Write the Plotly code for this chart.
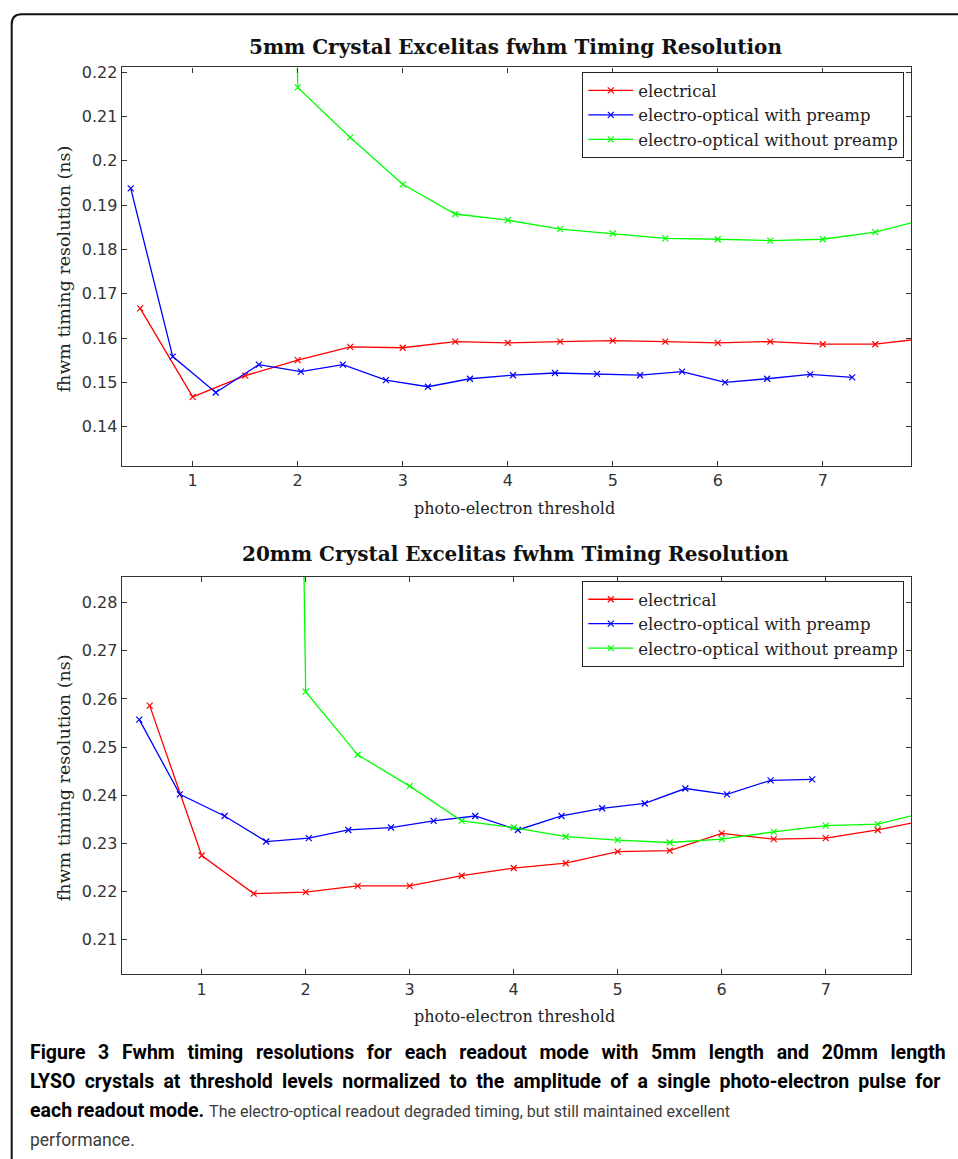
import plotly.graph_objects as go

W, H = 958, 1159

# ---------------- data ----------------
series_names = ["electrical", "electro-optical with preamp", "electro-optical without preamp"]
series_colors = ["#ff0000", "#0000ff", "#00ff00"]

# 5 mm crystal
top_elec_x = [0.5, 1, 1.5, 2, 2.5, 3, 3.5, 4, 4.5, 5, 5.5, 6, 6.5, 7, 7.5, 8]
top_elec_y = [0.1667, 0.1467, 0.1515, 0.1550, 0.1580, 0.1578, 0.1592, 0.1589, 0.1592,
              0.1594, 0.1592, 0.1589, 0.1592, 0.1586, 0.1586, 0.1600]
top_pre_x = [0.41, 0.81, 1.22, 1.63, 2.03, 2.43, 2.84, 3.24, 3.64, 4.05, 4.45, 4.85,
             5.26, 5.66, 6.07, 6.47, 6.88, 7.28]
top_pre_y = [0.1938, 0.1558, 0.1477, 0.1540, 0.1524, 0.1540, 0.1505, 0.1490, 0.1508,
             0.1516, 0.1521, 0.1519, 0.1516, 0.1524, 0.1500, 0.1508, 0.1518, 0.1511]
top_nopre_x = [1.5, 2, 2.5, 3, 3.5, 4, 4.5, 5, 5.5, 6, 6.5, 7, 7.5, 8]
top_nopre_y = [1.0, 0.2166, 0.2053, 0.1947, 0.1880, 0.1866, 0.1846, 0.1836, 0.1825,
               0.1823, 0.1820, 0.1823, 0.1839, 0.1870]

# 20 mm crystal
bot_elec_x = [0.5, 1, 1.5, 2, 2.5, 3, 3.5, 4, 4.5, 5, 5.5, 6, 6.5, 7, 7.5, 8]
bot_elec_y = [0.2586, 0.2275, 0.2196, 0.2199, 0.2212, 0.2212, 0.2233, 0.2249, 0.2259,
              0.2283, 0.2285, 0.2321, 0.2309, 0.2311, 0.2328, 0.2350]
bot_pre_x = [0.40, 0.79, 1.22, 1.62, 2.03, 2.41, 2.82, 3.23, 3.63, 4.04, 4.46, 4.85,
             5.26, 5.65, 6.05, 6.47, 6.87]
bot_pre_y = [0.2557, 0.2402, 0.2357, 0.2304, 0.2311, 0.2328, 0.2333, 0.2347, 0.2357,
             0.2328, 0.2357, 0.2373, 0.2383, 0.2414, 0.2402, 0.2431, 0.2433]
bot_nopre_x = [1.5, 2, 2.5, 3, 3.5, 4, 4.5, 5, 5.5, 6, 6.5, 7, 7.5, 8]
bot_nopre_y = [1.0, 0.2615, 0.2484, 0.2419, 0.2347, 0.2333, 0.2314, 0.2307, 0.2302,
               0.2309, 0.2324, 0.2337, 0.2340, 0.2367]

x_ticks = [1, 2, 3, 4, 5, 6, 7]
top_y_ticks = [0.14, 0.15, 0.16, 0.17, 0.18, 0.19, 0.2, 0.21, 0.22]
bot_y_ticks = [0.21, 0.22, 0.23, 0.24, 0.25, 0.26, 0.27, 0.28]

top_title = "5mm Crystal Excelitas fwhm Timing Resolution"
bot_title = "20mm Crystal Excelitas fwhm Timing Resolution"
x_label = "photo-electron threshold"
y_label = "fhwm timing resolution (ns)"
caption_lines = [
    "<span style='word-spacing:7.8px'><b>Figure 3 Fwhm timing resolutions for each readout mode with 5mm length and 20mm length</b></span>",
    "<span style='word-spacing:4.4px'><b>LYSO crystals at threshold levels normalized to the amplitude of a single photo-electron pulse for</b></span>",
    "<b>each readout mode.</b> <span style='color:#3c3c3c;font-size:16px'>The electro-optical readout degraded timing, but still maintained excellent</span>",
    "<span style='color:#3c3c3c;font-size:17.5px'>performance.</span>",
]

# ---------------- helpers ----------------
def px(xp):
    return xp / W

def py(yp):
    return 1 - yp / H

SERIF = "DejaVu Serif"
SANS = "DejaVu Sans"

fig = go.Figure()

top_sets = [(top_elec_x, top_elec_y), (top_pre_x, top_pre_y), (top_nopre_x, top_nopre_y)]
bot_sets = [(bot_elec_x, bot_elec_y), (bot_pre_x, bot_pre_y), (bot_nopre_x, bot_nopre_y)]

for i, (xs, ys) in enumerate(top_sets):
    fig.add_trace(go.Scatter(
        x=xs, y=ys, mode="lines+markers", name=series_names[i],
        line=dict(color=series_colors[i], width=1.3),
        marker=dict(symbol="x-thin", size=6, line=dict(color=series_colors[i], width=1.2)),
        xaxis="x", yaxis="y", legend="legend"))
for i, (xs, ys) in enumerate(bot_sets):
    fig.add_trace(go.Scatter(
        x=xs, y=ys, mode="lines+markers", name=series_names[i],
        line=dict(color=series_colors[i], width=1.3),
        marker=dict(symbol="x-thin", size=6, line=dict(color=series_colors[i], width=1.2)),
        xaxis="x2", yaxis="y2", legend="legend2"))

axis_common = dict(
    showline=True, linecolor="#333333", linewidth=1.2, mirror="ticks",
    ticks="inside", ticklen=5, tickwidth=1, tickcolor="#333333",
    showgrid=False, zeroline=False,
    tickfont=dict(family=SANS, size=16, color="#333333"),
)

legend_common = dict(
    xanchor="left", yanchor="top",
    bgcolor="white", bordercolor="#222222", borderwidth=1,
    font=dict(family=SERIF, size=16.5, color="#222222"),
    tracegroupgap=0, itemwidth=45,
)

fig.update_layout(
    width=W, height=H,
    margin=dict(l=0, r=0, t=0, b=0),
    paper_bgcolor="white", plot_bgcolor="white",
    xaxis=dict(domain=[px(121.7), px(911)], range=[0.324, 7.84], tickvals=x_ticks,
               anchor="y", **axis_common),
    yaxis=dict(domain=[py(463), py(62.7)], range=[0.1311, 0.2211], tickvals=top_y_ticks,
               anchor="x", **axis_common),
    xaxis2=dict(domain=[px(121.7), px(911)], range=[0.231, 7.82], tickvals=x_ticks,
                anchor="y2", **axis_common),
    yaxis2=dict(domain=[py(973.7), py(574)], range=[0.2028, 0.2854], tickvals=bot_y_ticks,
                anchor="x2", **axis_common),
    legend=dict(x=px(582.3), y=py(67.5), **legend_common),
    legend2=dict(x=px(582.3), y=py(578.5), **legend_common),
    showlegend=True,
)

annotations = []
# chart titles
for txt, yc in [(top_title, 42), (bot_title, 551.5)]:
    annotations.append(dict(text="<b>" + txt + "</b>", x=px(515.5), y=py(yc), xref="paper", yref="paper",
                            xanchor="center", yanchor="middle", showarrow=False,
                            font=dict(family=SERIF, size=20, color="#111111")))
# x labels
for yc in [506, 1016]:
    annotations.append(dict(text=x_label, x=px(514), y=py(yc), xref="paper", yref="paper",
                            xanchor="center", yanchor="middle", showarrow=False,
                            font=dict(family=SERIF, size=16, color="#222222")))
# y labels
for yc in [265, 776]:
    annotations.append(dict(text=y_label, x=px(63.5), y=py(yc), xref="paper", yref="paper",
                            xanchor="center", yanchor="middle", showarrow=False, textangle=-90,
                            font=dict(family=SERIF, size=17.5, color="#222222")))
# caption
for txt, yc in zip(caption_lines, [1052, 1081, 1110, 1139.5]):
    annotations.append(dict(text=txt, x=px(28), y=py(yc), xref="paper", yref="paper",
                            xanchor="left", yanchor="middle", showarrow=False,
                            font=dict(family="Roboto", size=19.5, color="#000000")))
fig.update_layout(annotations=annotations)

# outer frame with rounded top-left corner
x0, y0 = px(11.7), py(9.3)
dx, dy = 10 / W, 10 / H
path = (f"M {x0},-0.05 L {x0},{y0 - dy} Q {x0},{y0} {x0 + dx},{y0} L 1.05,{y0}")
fig.add_shape(type="path", path=path, xref="paper", yref="paper",
              line=dict(color="#111111", width=2))

fig.write_html("out.html",
               config={"displayModeBar": False},
               post_script="document.body.style.margin='0';document.body.style.padding='0';")
